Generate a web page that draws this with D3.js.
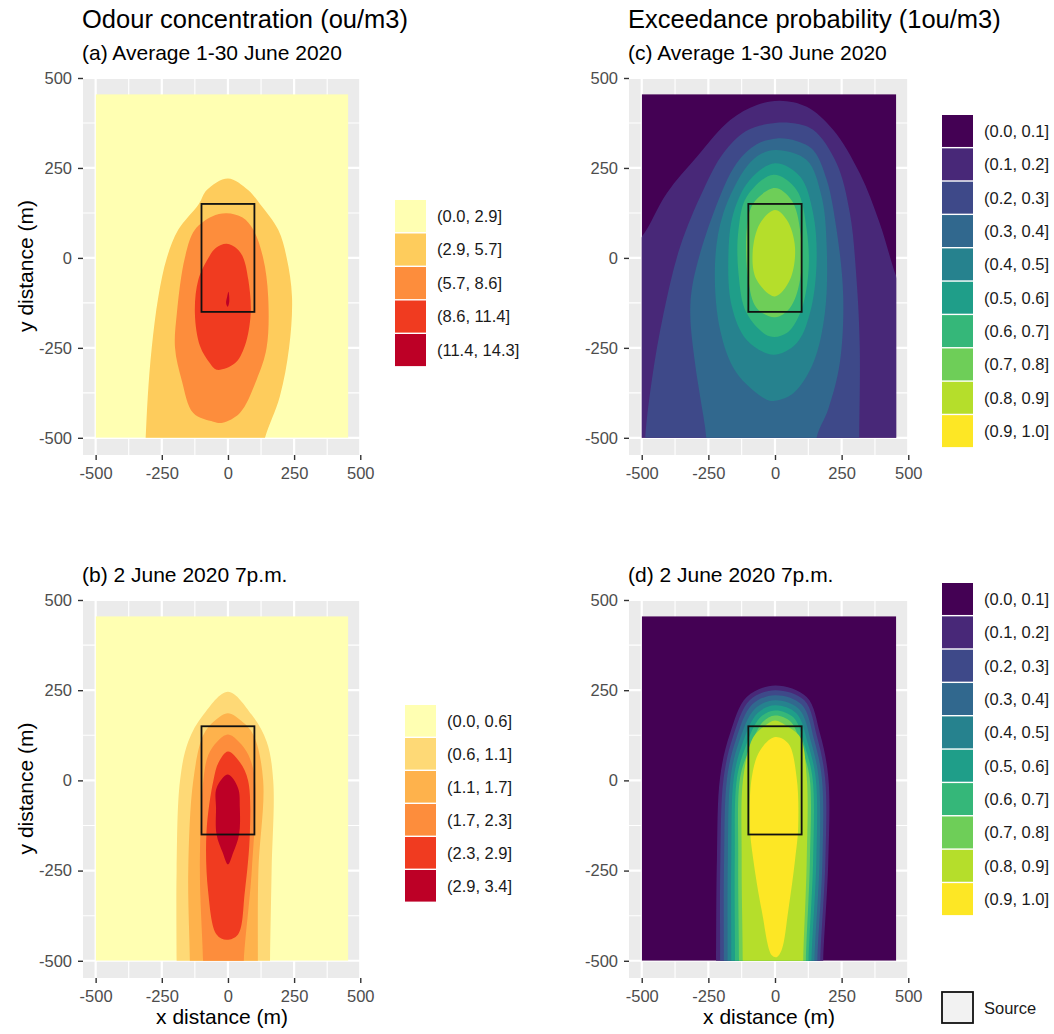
<!DOCTYPE html>
<html>
<head>
<meta charset="utf-8">
<script src="https://cdn.jsdelivr.net/npm/d3@7"></script>
<style>
  body { margin: 0; background: #fff; }
  svg text { font-family: "Liberation Sans", Arial, Helvetica, sans-serif; }
</style>
</head>
<body>
<svg id="chart" width="1054" height="1034"></svg>
<script>
// axis ticks and extents (metres)
const majorTicks = [-500, -250, 0, 250, 500];
const minorTicks = [-375, -125, 125, 375];
const gridExtent = [-500, 455];
const sourceBox = [[-100, -150], [100, 150]];

// legend bins
const odourAvgBins = ["(0.0, 2.9]", "(2.9, 5.7]", "(5.7, 8.6]", "(8.6, 11.4]", "(11.4, 14.3]"];
const odourHourBins = ["(0.0, 0.6]", "(0.6, 1.1]", "(1.1, 1.7]", "(1.7, 2.3]", "(2.3, 2.9]", "(2.9, 3.4]"];
const probBins = ["(0.0, 0.1]", "(0.1, 0.2]", "(0.2, 0.3]", "(0.3, 0.4]", "(0.4, 0.5]",
  "(0.5, 0.6]", "(0.6, 0.7]", "(0.7, 0.8]", "(0.8, 0.9]", "(0.9, 1.0]"];

// contour outlines, [x, y] in metres, one per band above the lowest
// (a) average odour concentration
const odourAvgShapes = [
  [[0, 221], [76, 189], [121, 150], [190, 78], [222, 0], [242, -108], [231, -250], [196, -385], [140, -500], [110, -600],
   [-318, -600], [-311, -500], [-303, -385], [-288, -250], [-263, -108], [-231, 0], [-188, 78], [-110, 150], [-80, 189]],
  [[-5, 124], [55, 112], [96, 78], [133, 0], [152, -108], [146, -250], [108, -339], [45, -431], [-20, -458], [-55, -455],
   [-131, -431], [-175, -339], [-200, -250], [-193, -153], [-163, 0], [-125, 78], [-60, 115]],
  [[-5, 39], [35, 25], [58, 0], [77, -61], [86, -153], [64, -244], [26, -293], [-43, -311], [-68, -293], [-106, -244],
   [-125, -153], [-112, -61], [-74, 0], [-45, 28]],
  [[2, -94], [5, -122], [-1, -136], [-7, -126], [-3, -108]]
];

// (b) 2 June 7pm odour concentration
const odourHourShapes = [
  [[0, 246], [90, 182], [146, 108], [171, 0], [165, -250], [159, -500], [158, -600],
   [-194, -600], [-194, -500], [-194, -250], [-181, 0], [-150, 108], [-93, 182]],
  [[0, 186], [50, 165], [96, 126], [133, 0], [115, -250], [113, -500], [113, -600],
   [-144, -600], [-144, -500], [-150, -250], [-131, 0], [-93, 126], [-50, 165]],
  [[0, 127], [40, 108], [77, 71], [102, 0], [90, -250], [60, -500], [58, -600],
   [-94, -600], [-94, -500], [-106, -250], [-93, 0], [-74, 71], [-40, 108]],
  [[0, 80], [45, 50], [76, 0], [83, -142], [64, -307], [38, -427], [-5, -442], [-43, -427], [-75, -307], [-81, -142],
   [-55, 0], [-35, 50]],
  [[0, 16], [38, -21], [45, -77], [42, -150], [20, -200], [0, -233], [-20, -200], [-43, -150], [-45, -77], [-43, -21]]
];

// (c) average exceedance probability
const probAvgShapes = [
  [[-560, 20], [-500, 59], [-406, 180], [-293, 281], [-168, 383], [-68, 425], [19, 437], [119, 420], [218, 356],
   [318, 235], [393, 96], [455, -52], [520, -170], [540, -600], [-560, -600]],
  [[-490, -600], [-487, -500], [-462, -339], [-418, -154], [-356, 31], [-269, 189], [-194, 291], [-110, 352],
   [-30, 372], [60, 375], [143, 356], [231, 263], [281, 124], [306, -61], [318, -246], [316, -500], [316, -600]],
  [[-258, -600], [-258, -500], [-281, -385], [-300, -293], [-318, -154], [-306, -61], [-231, 124], [-144, 263],
   [-70, 315], [6, 332], [80, 325], [143, 300], [194, 217], [231, 78], [256, -107], [243, -293], [200, -420],
   [156, -500], [150, -600]],
  [[6, 300], [119, 272], [175, 170], [194, 31], [187, -154], [143, -293], [69, -376], [0, -397], [-31, -394],
   [-144, -320], [-206, -200], [-225, -15], [-194, 124], [-106, 254], [-50, 290]],
  [[0, 263], [94, 226], [143, 124], [156, -15], [131, -154], [81, -237], [-6, -269], [-106, -228], [-162, -135],
   [-175, 4], [-156, 124], [-94, 217]],
  [[-6, 231], [81, 189], [119, 78], [125, -43], [94, -154], [44, -209], [-20, -218], [-106, -154], [-137, -43],
   [-137, 78], [-106, 170]],
  [[0, 194], [62, 160], [94, 78], [94, -61], [56, -139], [0, -165], [-69, -139], [-100, -61], [-106, 78], [-81, 152]],
  [[0, 133], [44, 106], [75, 31], [56, -61], [0, -107], [-69, -61], [-84, 13], [-56, 96]]
];

// (d) 2 June 7pm exceedance probability
const probHourShapes = [
  [[0, 263], [119, 231], [169, 129], [200, 9], [200, -222], [181, -500], [180, -600],
   [-222, -600], [-221, -500], [-218, -222], [-206, 9], [-169, 129], [-106, 231]],
  [[0, 250], [110, 222], [158, 120], [188, 5], [189, -222], [170, -500], [170, -600],
   [-207, -600], [-206, -500], [-205, -222], [-193, 5], [-158, 120], [-95, 222]],
  [[0, 236], [100, 210], [147, 112], [176, 5], [178, -222], [159, -500], [159, -600],
   [-193, -600], [-192, -500], [-191, -222], [-180, 5], [-147, 112], [-86, 210]],
  [[0, 222], [90, 198], [136, 105], [164, 5], [167, -222], [148, -500], [148, -600],
   [-179, -600], [-178, -500], [-177, -222], [-167, 5], [-136, 105], [-76, 198]],
  [[0, 208], [80, 186], [125, 98], [153, 5], [155, -222], [137, -500], [137, -600],
   [-165, -600], [-164, -500], [-164, -222], [-155, 5], [-124, 98], [-66, 186]],
  [[0, 194], [70, 174], [114, 90], [141, 5], [143, -222], [126, -500], [126, -600],
   [-151, -600], [-150, -500], [-151, -222], [-143, 5], [-112, 90], [-56, 174]],
  [[0, 180], [60, 162], [104, 80], [130, 7], [131, -222], [116, -500], [116, -600],
   [-136, -600], [-135, -500], [-138, -222], [-131, 7], [-100, 80], [-46, 162]],
  [[0, 166], [45, 150], [94, 120], [119, 9], [119, -222], [106, -500], [106, -600],
   [-122, -600], [-121, -500], [-125, -222], [-119, 9], [-81, 120], [-40, 150]],
  [[0, 120], [50, 102], [81, 9], [87, -129], [75, -222], [50, -360], [25, -470], [6, -490], [-12, -485],
   [-50, -360], [-81, -222], [-94, -129], [-87, 9], [-56, 83]]
];

const viridis10 = d3.quantize(d3.interpolateViridis, 10);

// ggplot expands the data range by 5% on each side
const pad = (gridExtent[1] - gridExtent[0]) * 0.05;
const domain = [gridExtent[0] - pad, gridExtent[1] + pad];

const svg = d3.select("#chart");
const FONT = '"Liberation Sans", Arial, Helvetica, sans-serif';

const panels = [
  { id: "a", left: 83, top: 77, width: 278, height: 378, shapes: odourAvgShapes, colours: d3.schemeYlOrRd[5],
    bins: odourAvgBins, subtitle: "(a) Average 1-30 June 2020", legendX: 395, legendY: 200, pitch: 33.5,
    yTitle: true, xTitle: false },
  { id: "b", left: 83, top: 599, width: 278, height: 379, shapes: odourHourShapes, colours: d3.schemeYlOrRd[6],
    bins: odourHourBins, subtitle: "(b) 2 June 2020 7p.m.", legendX: 405, legendY: 705, pitch: 33,
    yTitle: true, xTitle: true },
  { id: "c", left: 629, top: 77, width: 280, height: 378, shapes: probAvgShapes, colours: viridis10,
    bins: probBins, subtitle: "(c) Average 1-30 June 2020", legendX: 942, legendY: 115, pitch: 33.35,
    yTitle: false, xTitle: false },
  { id: "d", left: 629, top: 599, width: 280, height: 379, shapes: probHourShapes, colours: viridis10,
    bins: probBins, subtitle: "(d) 2 June 2020 7p.m.", legendX: 942, legendY: 583, pitch: 33.35,
    yTitle: false, xTitle: true, source: true }
];

panels.forEach(drawPanel);

svg.append("text").attr("x", 82).attr("y", 28).attr("font-size", 25.5).attr("fill", "#000")
  .text("Odour concentration (ou/m3)");
svg.append("text").attr("x", 628).attr("y", 28).attr("font-size", 25.5).attr("fill", "#000")
  .text("Exceedance probability (1ou/m3)");

function drawPanel(p) {
  const x = d3.scaleLinear().domain(domain).range([p.left, p.left + p.width]);
  const y = d3.scaleLinear().domain(domain).range([p.top + p.height, p.top]);
  const g = svg.append("g").attr("class", "panel-" + p.id);

  g.append("rect")
    .attr("x", p.left).attr("y", p.top)
    .attr("width", p.width).attr("height", p.height)
    .attr("fill", "#EBEBEB");

  // grid: minor first, major on top
  [[minorTicks, 1.1], [majorTicks, 2.2]].forEach(([vals, w]) => {
    g.selectAll(null).data(vals).join("line")
      .attr("x1", d => x(d)).attr("x2", d => x(d))
      .attr("y1", p.top).attr("y2", p.top + p.height)
      .attr("stroke", "#fff").attr("stroke-width", w);
    g.selectAll(null).data(vals).join("line")
      .attr("y1", d => y(d)).attr("y2", d => y(d))
      .attr("x1", p.left).attr("x2", p.left + p.width)
      .attr("stroke", "#fff").attr("stroke-width", w);
  });

  const clipId = "clip-" + p.id;
  svg.append("clipPath").attr("id", clipId).append("rect")
    .attr("x", x(gridExtent[0])).attr("y", y(gridExtent[1]))
    .attr("width", x(gridExtent[1]) - x(gridExtent[0]))
    .attr("height", y(gridExtent[0]) - y(gridExtent[1]));

  const fills = g.append("g").attr("clip-path", `url(#${clipId})`);
  fills.append("rect")
    .attr("x", x(gridExtent[0])).attr("y", y(gridExtent[1]))
    .attr("width", x(gridExtent[1]) - x(gridExtent[0]))
    .attr("height", y(gridExtent[0]) - y(gridExtent[1]))
    .attr("fill", p.colours[0]);

  const outline = d3.line()
    .x(d => x(d[0])).y(d => y(d[1]))
    .curve(d3.curveCatmullRomClosed.alpha(0.5));

  fills.selectAll("path").data(p.shapes).join("path")
    .attr("d", outline)
    .attr("fill", (d, i) => p.colours[i + 1]);

  // source area
  g.append("rect")
    .attr("x", x(sourceBox[0][0])).attr("y", y(sourceBox[1][1]))
    .attr("width", x(sourceBox[1][0]) - x(sourceBox[0][0]))
    .attr("height", y(sourceBox[0][1]) - y(sourceBox[1][1]))
    .attr("fill", "none").attr("stroke", "#111").attr("stroke-width", 1.8);

  // axes
  const fmt = d => String(d);
  g.append("g")
    .attr("transform", `translate(0,${p.top + p.height})`)
    .call(d3.axisBottom(x).tickValues(majorTicks).tickFormat(fmt).tickSize(5).tickPadding(7))
    .call(styleAxis);
  g.append("g")
    .attr("transform", `translate(${p.left},0)`)
    .call(d3.axisLeft(y).tickValues(majorTicks).tickFormat(fmt).tickSize(5).tickPadding(6))
    .call(styleAxis);

  g.append("text")
    .attr("x", p.left - 1).attr("y", p.top - 17)
    .attr("font-size", 21).attr("fill", "#000")
    .text(p.subtitle);

  if (p.yTitle) {
    g.append("text")
      .attr("transform", `translate(33,${p.top + p.height / 2}) rotate(-90)`)
      .attr("text-anchor", "middle").attr("font-size", 21).attr("fill", "#000")
      .text("y distance (m)");
  }
  if (p.xTitle) {
    g.append("text")
      .attr("x", p.left + p.width / 2).attr("y", 1024)
      .attr("text-anchor", "middle").attr("font-size", 21).attr("fill", "#000")
      .text("x distance (m)");
  }

  // legend
  const lg = g.append("g");
  const keys = lg.selectAll("g").data(p.bins).join("g")
    .attr("transform", (d, i) => `translate(${p.legendX},${p.legendY + i * p.pitch})`);
  keys.append("rect")
    .attr("width", 31).attr("height", p.pitch - 1.4)
    .attr("fill", (d, i) => p.colours[i]);
  keys.append("text")
    .attr("x", 42).attr("y", (p.pitch - 1.4) / 2).attr("dy", "0.36em")
    .attr("font-size", 16.5).attr("fill", "#1a1a1a")
    .text(d => d);

  if (p.source) {
    lg.append("rect")
      .attr("x", 942).attr("y", 992).attr("width", 31).attr("height", 31)
      .attr("fill", "#F2F2F2").attr("stroke", "#111").attr("stroke-width", 1.8);
    lg.append("text")
      .attr("x", 984).attr("y", 1008).attr("dy", "0.36em")
      .attr("font-size", 16.5).attr("fill", "#1a1a1a")
      .text("Source");
  }
}

function styleAxis(sel) {
  sel.attr("font-family", FONT).attr("font-size", 16.5);
  sel.select(".domain").remove();
  sel.selectAll(".tick line").attr("stroke", "#333").attr("stroke-width", 1.4);
  sel.selectAll(".tick text").attr("fill", "#4D4D4D");
}
</script>
</body>
</html>
